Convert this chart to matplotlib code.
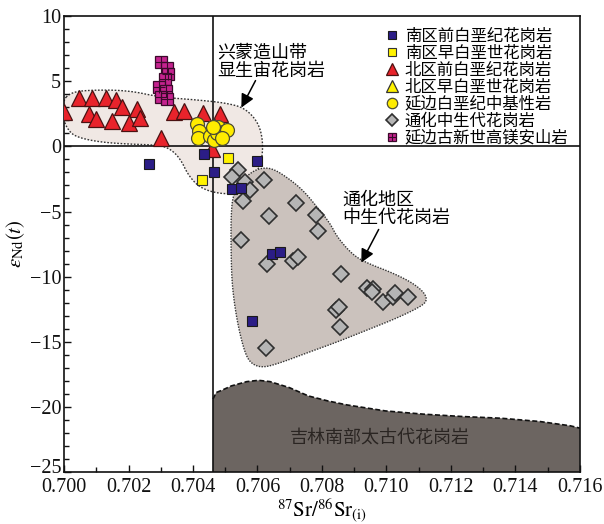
import numpy as np
import matplotlib
matplotlib.use('Agg')
from matplotlib import pyplot as plt
from matplotlib.patches import Polygon
from matplotlib.ticker import MultipleLocator
from matplotlib.transforms import ScaledTranslation

plt.rcParams['font.family'] = ['Liberation Serif', 'DejaVu Serif']
plt.rcParams['mathtext.fontset'] = 'stix'
cjk = ['Noto Sans CJK SC', 'DejaVu Sans']

# 87Sr/86Sr(i) vs eNd(t) for each rock group
south_pre_k_x = [0.70264, 0.70434, 0.70465, 0.70521, 0.70549, 0.70598, 0.70645, 0.70670, 0.70583]
south_pre_k_y = [-1.36, -0.59, -1.97, -3.28, -3.20, -1.13, -8.27, -8.11, -13.41]

south_early_k_x = [0.70509, 0.70428]
south_early_k_y = [-0.90, -2.59]

north_pre_k_x = [0.70000, 0.70047, 0.70087, 0.70130, 0.70161, 0.70180, 0.70226, 0.70078, 0.70099,
                 0.70149, 0.70202, 0.70236, 0.70301, 0.70341, 0.70372, 0.70431, 0.70484, 0.70459, 0.70459]
north_pre_k_y = [2.63, 3.71, 3.71, 3.71, 3.55, 3.02, 2.86, 2.48, 2.10,
                 1.94, 1.79, 2.17, 0.64, 2.63, 2.71, 2.56, 2.48, 1.10, -0.21]

north_early_k_x = [0.70465]
north_early_k_y = [1.56]

yanbian_k_x = [0.70412, 0.70419, 0.70416, 0.70453, 0.70465, 0.70474, 0.70478, 0.70493, 0.70505, 0.70490, 0.70462]
yanbian_k_y = [1.71, 1.17, 0.64, 0.79, 0.48, 1.02, 1.48, 1.10, 1.25, 0.64, 1.48]

tonghua_x = [0.70540, 0.70521, 0.70561, 0.70577, 0.70555, 0.70620, 0.70719, 0.70636, 0.70781, 0.70788,
             0.70549, 0.70629, 0.70710, 0.70726, 0.70859, 0.70940, 0.70958, 0.70955, 0.70989, 0.71020,
             0.71026, 0.71067, 0.70843, 0.70853, 0.70856, 0.70626]
tonghua_y = [-1.82, -2.36, -2.74, -3.35, -4.20, -2.59, -4.35, -5.35, -5.27, -6.50,
             -7.19, -9.03, -8.80, -8.50, -9.80, -10.87, -10.95, -11.18, -11.95, -11.57,
             -11.26, -11.57, -12.56, -12.33, -13.87, -15.48]

yanbian_pg_x = [0.70300, 0.70318, 0.70322, 0.70313, 0.70295, 0.70315, 0.70302, 0.70320]
yanbian_pg_y = [6.47, 6.01, 5.55, 5.17, 4.55, 4.24, 3.78, 3.63]

# field outlines
xingmeng_x = [0.69997, 0.70019, 0.70065, 0.70195, 0.70298, 0.70422, 0.70505, 0.70561, 0.70602, 0.70617,
              0.70614, 0.70598, 0.70577, 0.70546, 0.70484, 0.70422, 0.70385, 0.70363, 0.70335, 0.70298,
              0.70195, 0.70112, 0.70050, 0.70019, 0.69997]
xingmeng_y = [3.55, 4.09, 4.32, 4.32, 3.78, 3.55, 3.32, 2.94, 1.86, 0.48,
              -1.05, -1.97, -3.05, -3.58, -3.66, -3.20, -2.20, -1.05, -0.28, 0.10,
              0.18, 0.33, 0.64, 1.02, 2.02]

tonghua_field_x = [0.70524, 0.70546, 0.70577, 0.70608, 0.70645, 0.70691, 0.70741, 0.70785, 0.70825, 0.70847,
                   0.70896, 0.70940, 0.71020, 0.71082, 0.71119, 0.71126, 0.71104, 0.71033, 0.70940, 0.70847,
                   0.70753, 0.70670, 0.70614, 0.70577, 0.70558, 0.70536, 0.70521, 0.70518, 0.70518]
tonghua_field_y = [-3.74, -2.82, -2.05, -1.67, -1.67, -2.36, -3.35, -4.66, -5.89, -6.96,
                   -8.34, -8.96, -9.72, -10.49, -11.26, -11.87, -12.33, -13.18, -14.10, -15.02,
                   -15.86, -16.63, -17.01, -16.63, -15.63, -13.33, -10.64, -7.96, -5.27]

archean_x = [0.70462, 0.70472, 0.70490, 0.70519, 0.70567, 0.70603, 0.70639, 0.70699, 0.70758, 0.70818,
             0.70878, 0.70997, 0.71116, 0.71236, 0.71355, 0.71475, 0.71570, 0.71600]
archean_y = [-19.40, -18.90, -18.72, -18.39, -18.06, -17.96, -18.06, -18.52, -19.16, -19.54,
             -19.85, -20.31, -20.56, -20.74, -20.87, -21.12, -21.45, -21.63]

sr_ref = 0.70462


def chaikin(xs, ys, n=3):
    pts = np.column_stack([xs, ys])
    for _ in range(n):
        nxt = np.roll(pts, -1, axis=0)
        q = 0.75 * pts + 0.25 * nxt
        r = 0.25 * pts + 0.75 * nxt
        pts = np.empty((2 * len(q), 2))
        pts[0::2] = q
        pts[1::2] = r
    return pts


fig = plt.figure(figsize=(6.04, 5.24), dpi=100)
ax = fig.add_axes([0.106, 0.0992, 0.854, 0.870])

ax.add_patch(Polygon(chaikin(xingmeng_x, xingmeng_y), closed=True, facecolor='#f0e8e4',
                     edgecolor='#333333', linestyle=(0, (1.2, 1.2)), lw=1.0, zorder=1))
ax.add_patch(Polygon(chaikin(tonghua_field_x, tonghua_field_y), closed=True, facecolor='#cbc2bd',
                     edgecolor='#333333', linestyle=(0, (1.0, 1.0)), lw=1.0, zorder=1.5))

# Archean field closed down to the bottom of the plot
arc_x = [sr_ref] + archean_x + [0.716, sr_ref]
arc_y = [-25] + archean_y + [-25, -25]
ax.fill(arc_x, arc_y, facecolor='#6c6561', edgecolor='none', zorder=1)
ax.plot(archean_x, archean_y, color='#111111', lw=1.2, ls=(0, (3, 1.5)), zorder=1.2)

ax.axvline(sr_ref, color='#111111', lw=1.2, zorder=2)
ax.axhline(0, color='#111111', lw=1.2, zorder=2)

h1, = ax.plot(north_pre_k_x, north_pre_k_y, '^', ms=11, mfc='#e8232b', mec='#4a1212', mew=0.9,
              ls='none', zorder=3)
h2, = ax.plot(north_early_k_x, north_early_k_y, '^', ms=11, mfc='#fff200', mec='#333333', mew=0.9,
              ls='none', zorder=3)
h3, = ax.plot(yanbian_k_x, yanbian_k_y, 'o', ms=10, mfc='#ffec00', mec='#4d4d33', mew=0.9,
              ls='none', zorder=3.5)
h4a, = ax.plot(yanbian_pg_x, yanbian_pg_y, 's', ms=8.5, mfc='#c4238e', mec='#3a0a2a', mew=0.9,
               ls='none', zorder=3.5)
h4b, = ax.plot(yanbian_pg_x, yanbian_pg_y, '+', ms=8.5, color='#3a0a2a', mew=0.8,
               ls='none', zorder=3.6)
h5, = ax.plot(tonghua_x, tonghua_y, 'D', ms=8, mfc='#b5b5b5', mec='#2f2f2f', mew=1.2,
              ls='none', zorder=3.7)
h6, = ax.plot(south_pre_k_x, south_pre_k_y, 's', ms=7.5, mfc='#2b1d86', mec='#1a1a1a', mew=0.8,
              ls='none', zorder=4)
h7, = ax.plot(south_early_k_x, south_early_k_y, 's', ms=7.5, mfc='#fff200', mec='#333333', mew=0.8,
              ls='none', zorder=4)

handles = [h6, h7, h1, h2, h3, h5, (h4a, h4b)]
labels = ['南区前白垩纪花岗岩', '南区早白垩世花岗岩', '北区前白垩纪花岗岩', '北区早白垩世花岗岩',
          '延边白垩纪中基性岩', '通化中生代花岗岩', '延边古新世高镁安山岩']
ax.legend(handles, labels, loc='upper right', bbox_to_anchor=(1.0, 1.0), frameon=False,
          prop={'family': cjk, 'size': 11.8}, markerscale=0.75, handlelength=1.0,
          handletextpad=0.3, labelspacing=0.0, borderaxespad=0.3)

ax.text(0.70474, 6.5, '兴蒙造山带\n显生宙花岗岩', family=cjk, fontsize=13, ha='left', va='center',
        linespacing=1.0, zorder=5)
ax.annotate('', xy=(0.70546, 2.79), xytext=(0.70598, 5.24),
            arrowprops=dict(arrowstyle='-|>', color='black', lw=1.1, mutation_scale=20), zorder=5)

ax.text(0.70862, -4.8, '通化地区\n中生代花岗岩', family=cjk, fontsize=13, ha='left', va='center',
        linespacing=1.0, zorder=5)
ax.annotate('', xy=(0.70918, -9.11), xytext=(0.70980, -6.19),
            arrowprops=dict(arrowstyle='-|>', color='black', lw=1.1, mutation_scale=20), zorder=5)

ax.text(0.70979, -22.4, '吉林南部太古代花岗岩', family=cjk, fontsize=13, ha='center', va='center',
        color='#2a2522', zorder=5)

ax.set_xlim(0.700, 0.716)
ax.set_ylim(-25, 10)
ax.xaxis.set_major_locator(MultipleLocator(0.002))
ax.xaxis.set_minor_locator(MultipleLocator(0.001))
ax.yaxis.set_major_locator(MultipleLocator(5))
ax.yaxis.set_minor_locator(MultipleLocator(1))
ax.xaxis.set_major_formatter(matplotlib.ticker.FormatStrFormatter('%.3f'))
ax.tick_params(which='both', direction='in', top=False, right=False, labelsize=14.5, colors='#111111')
ax.tick_params(which='major', length=5, width=1.0)
ax.tick_params(axis='x', which='major', pad=4)
ax.tick_params(axis='y', which='major', pad=2)
ax.tick_params(which='minor', length=3.5, width=1.0)
for s in ax.spines.values():
    s.set_linewidth(1.2)
    s.set_color('#111111')

ax.set_xlabel(r'$^{87}\mathrm{Sr}/^{86}\mathrm{Sr}_{(\mathrm{i})}$', fontsize=15, labelpad=0)
ax.set_ylabel(r'$\varepsilon_{\mathrm{Nd}}(t)$', fontsize=15, labelpad=2)

# lift the -25 label a little so it clears the 0.700 label
fig.canvas.draw()
for tick in ax.yaxis.get_major_ticks():
    if abs(tick.get_loc() + 25) < 1e-6:
        tick.label1.set_transform(tick.label1.get_transform()
                                  + ScaledTranslation(0, 4 / 72, fig.dpi_scale_trans))

fig.savefig('out.png', dpi=100)
